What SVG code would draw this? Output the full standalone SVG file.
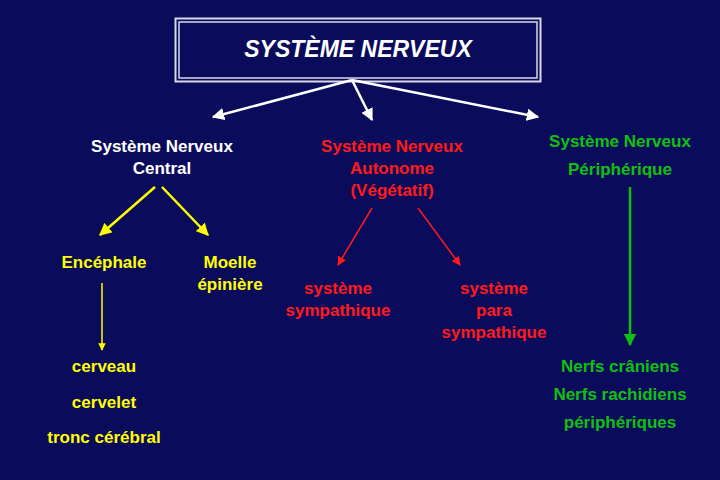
<svg xmlns="http://www.w3.org/2000/svg" width="720" height="480" viewBox="0 0 720 480">
<style>
text{font-family:"Liberation Sans",Arial,sans-serif;font-weight:bold;font-size:17px;text-anchor:middle}
.w{fill:#fff}.r{fill:#ff1a1a}.g{fill:#10c010}.y{fill:#ffff00}
</style>
<defs>
<marker id="mw" viewBox="0 0 10 10" refX="9" refY="5" markerWidth="5" markerHeight="5" orient="auto"><path d="M0,0L10,5L0,10z" fill="#fff"/></marker>
<marker id="my" viewBox="0 0 10 10" refX="9" refY="5" markerWidth="5" markerHeight="5" orient="auto"><path d="M0,0L10,5L0,10z" fill="#ffff00"/></marker>
<marker id="mr" viewBox="0 0 10 10" refX="9" refY="5" markerWidth="6" markerHeight="6" orient="auto"><path d="M0,0L10,5L0,10z" fill="#ff1a1a"/></marker>
<marker id="mg" viewBox="0 0 10 10" refX="9" refY="5" markerWidth="5" markerHeight="5" orient="auto"><path d="M0,0L10,5L0,10z" fill="#10c010"/></marker>
</defs>
<rect width="720" height="480" fill="#0b0b5c"/>
<g id="title">
<rect x="175.5" y="18.5" width="365" height="63" fill="none" stroke="#d8d8e8" stroke-width="2"/>
<rect x="179" y="22" width="358" height="56" fill="none" stroke="#d8d8e8" stroke-width="1.5"/>
<text x="358" y="57" class="w" style="font-size:23px;font-style:italic">SYSTÈME NERVEUX</text>
</g>
<g id="connectors" stroke-width="2.5">
<line x1="352" y1="80" x2="213" y2="117" stroke="#fff" marker-end="url(#mw)"/>
<line x1="352" y1="80" x2="372" y2="120" stroke="#fff" marker-end="url(#mw)"/>
<line x1="352" y1="80" x2="538" y2="117" stroke="#fff" marker-end="url(#mw)"/>
<line x1="155" y1="187" x2="100" y2="235" stroke="#ffff00" marker-end="url(#my)"/>
<line x1="162" y1="187" x2="208" y2="235" stroke="#ffff00" marker-end="url(#my)"/>
<line x1="102" y1="283" x2="102" y2="350" stroke="#ffff00" stroke-width="1.5" marker-end="url(#my)"/>
<line x1="372" y1="208" x2="338" y2="265" stroke="#ff1a1a" stroke-width="1.5" marker-end="url(#mr)"/>
<line x1="418" y1="208" x2="460" y2="265" stroke="#ff1a1a" stroke-width="1.5" marker-end="url(#mr)"/>
<line x1="630" y1="187" x2="630" y2="345" stroke="#10c010" marker-end="url(#mg)"/>
</g>
<g id="snc"><text x="162" y="152" class="w">Système Nerveux</text><text x="162" y="174" class="w">Central</text></g>
<g id="sna"><text x="392" y="152" class="r">Système Nerveux</text><text x="392" y="174" class="r">Autonome</text><text x="392" y="196" class="r">(Végétatif)</text></g>
<g id="snp"><text x="620" y="147" class="g">Système Nerveux</text><text x="620" y="175" class="g">Périphérique</text></g>
<g id="enc"><text x="104" y="268" class="y">Encéphale</text></g>
<g id="moelle"><text x="230" y="268" class="y">Moelle</text><text x="230" y="290" class="y">épinière</text></g>
<g id="symp"><text x="338" y="294" class="r">système</text><text x="338" y="316" class="r">sympathique</text></g>
<g id="para"><text x="494" y="294" class="r">système</text><text x="494" y="316" class="r">para</text><text x="494" y="338" class="r">sympathique</text></g>
<g id="cerv"><text x="104" y="372" class="y">cerveau</text><text x="104" y="408" class="y">cervelet</text><text x="104" y="443" class="y">tronc cérébral</text></g>
<g id="nerfs"><text x="620" y="372" class="g">Nerfs crâniens</text><text x="620" y="400" class="g">Nerfs rachidiens</text><text x="620" y="428" class="g">périphériques</text></g>
</svg>
